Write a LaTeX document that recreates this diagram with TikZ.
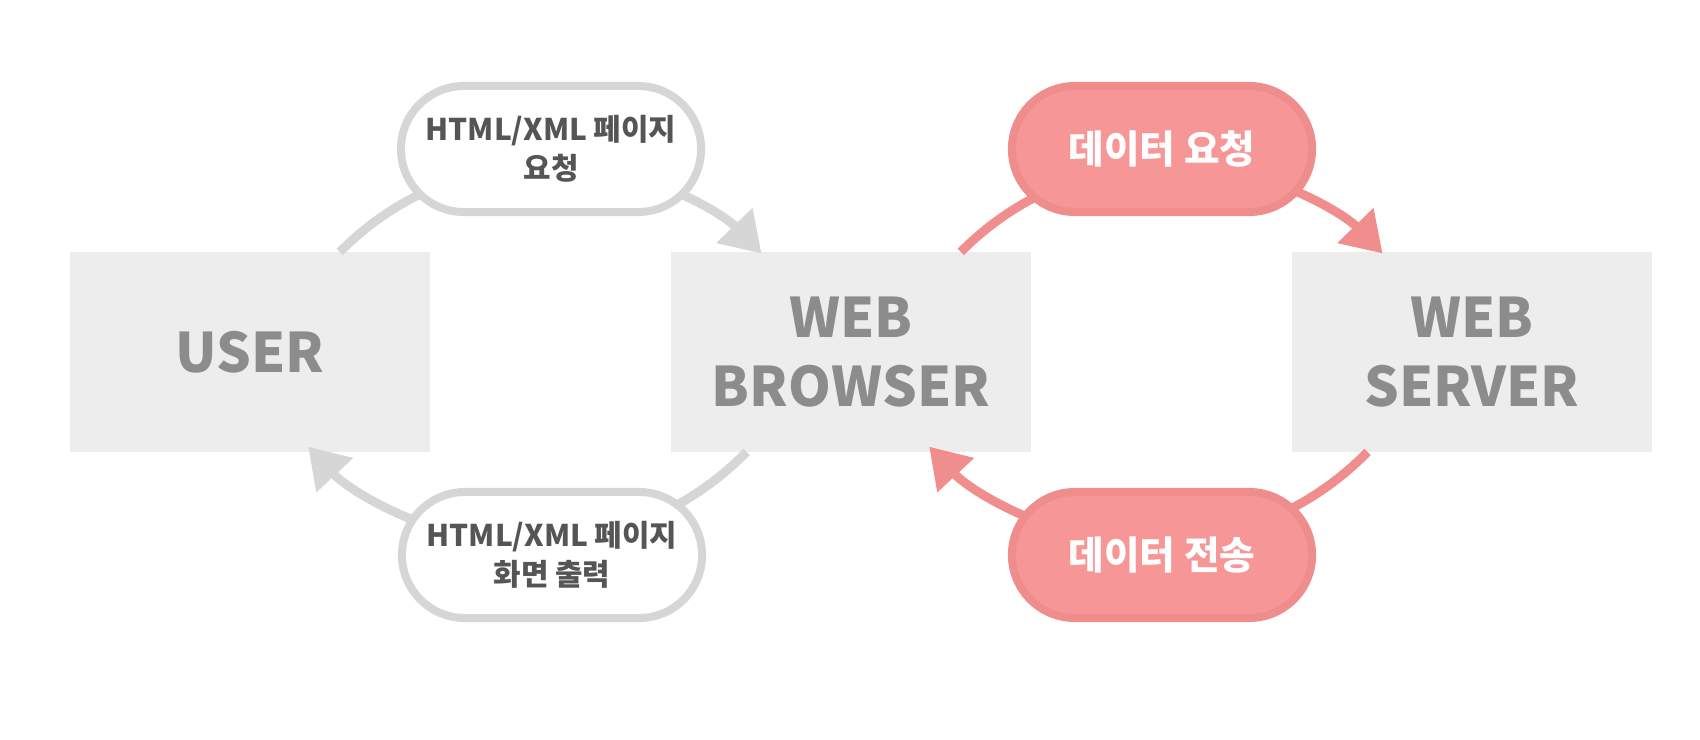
\documentclass[tikz,border=0pt]{standalone}
\usepackage{fontspec}
\setmainfont{Noto Sans CJK KR}
\usetikzlibrary{arrows.meta}
\definecolor{boxfill}{HTML}{EDEDED}
\definecolor{boxtext}{HTML}{8C8C8C}
\definecolor{greyline}{HTML}{D6D6D6}
\definecolor{pilltext}{HTML}{555555}
\definecolor{redline}{HTML}{F08E8E}
\definecolor{redfill}{HTML}{F79696}
\definecolor{redborder}{HTML}{EF8C8C}
\begin{document}
\begin{tikzpicture}[x=0.01cm,y=0.01cm,
  box/.style={fill=boxfill, minimum width=3.6cm, minimum height=2cm, inner sep=0pt,
    font=\bfseries\fontsize{15.5}{19.8}\selectfont, text=boxtext, align=center},
  pill/.style={rounded corners=0.63cm, minimum width=3cm, minimum height=1.26cm,
    line width=0.08cm, inner sep=0pt, align=center},
  greypill/.style={pill, draw=greyline, fill=white, text=pilltext,
    font=\bfseries\fontsize{8.5}{11}\selectfont},
  redpill/.style={pill, draw=redborder, fill=redfill, text=white,
    font=\bfseries\fontsize{11}{13}\selectfont},
  greyarc/.style={draw=greyline, line width=0.09cm, -{Triangle[length=0.39cm,width=0.48cm]}},
  redarc/.style={greyarc, draw=redline}
]
\useasboundingbox (0,0) rectangle (1700,-740);
% boxes
\node[box] (user) at (250,-352) {USER};
\node[box] (browser) at (851,-352) {WEB\\BROWSER};
\node[box] (server) at (1472,-352) {WEB\\SERVER};
% arc end points
\coordinate (g1s) at (339.8,-252);
\coordinate (g2s) at (746.5,-452);
\coordinate (r1s) at (960.8,-252);
\coordinate (r2s) at (1367.5,-452);
% connectors
\draw[greyarc] (g1s) arc[start angle=135.4, end angle=44.2, radius=2.95cm];
\draw[greyarc] (g2s) arc[start angle=-44.4, end angle=-137, radius=3.03cm];
\draw[redarc] (r1s) arc[start angle=135.4, end angle=44.2, radius=2.95cm];
\draw[redarc] (r2s) arc[start angle=-44.4, end angle=-137, radius=3.03cm];
% pills
\node[greypill] (p1) at (551,-149) {HTML/XML 페이지\\요청};
\node[greypill] (p2) at (552,-555) {HTML/XML 페이지\\화면 출력};
\node[redpill] (p3) at (1162,-149) {데이터 요청};
\node[redpill] (p4) at (1162,-555) {데이터 전송};
\end{tikzpicture}
\end{document}
